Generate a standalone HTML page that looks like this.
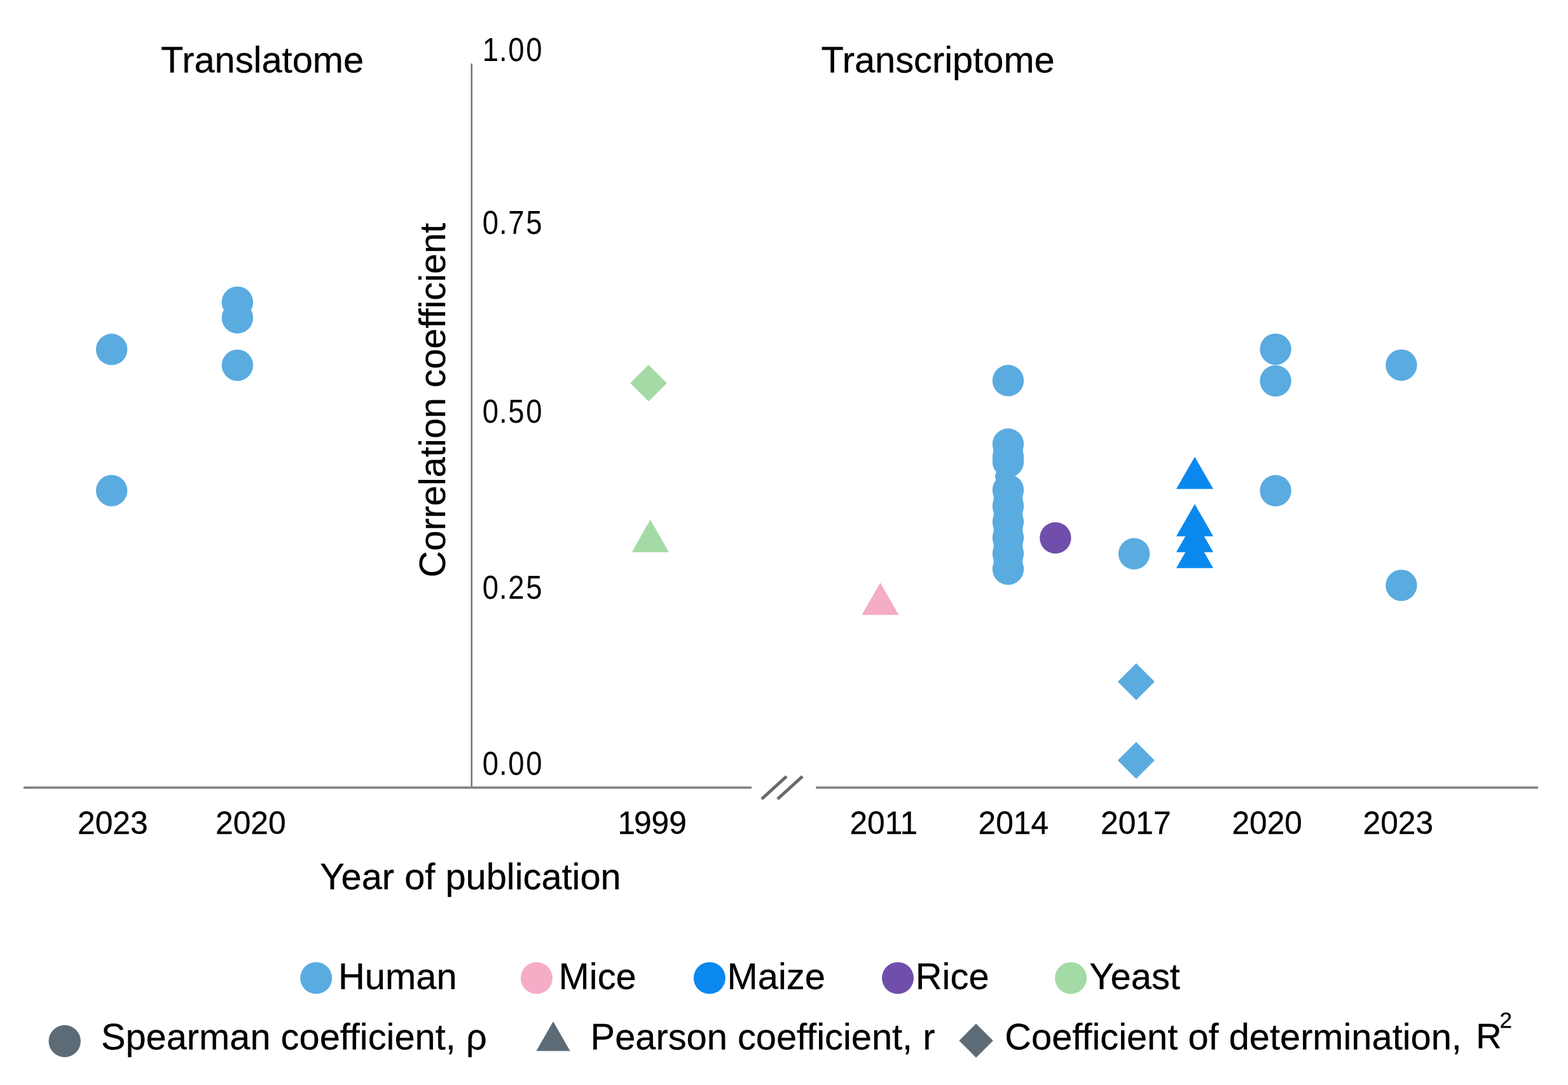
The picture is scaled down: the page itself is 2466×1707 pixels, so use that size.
<!DOCTYPE html>
<html lang="en">
<head>
<meta charset="utf-8">
<title>Correlation coefficient by year of publication</title>
<style>
html,body{margin:0;padding:0;background:#fff;}
body{width:2466px;height:1707px;}
svg{display:block;}
svg text{font-family:"Liberation Sans", Arial, Helvetica, sans-serif;}
</style>
</head>
<body>
<svg width="2466" height="1707" viewBox="0 0 2466 1707">
<rect width="2466" height="1707" fill="#fff"/>
<line x1="741.7" y1="100" x2="741.7" y2="1240.8" stroke="#787878" stroke-width="2.6"/>
<g stroke="#858585" stroke-width="3.6" fill="none">
<line x1="37" y1="1239.1" x2="1182" y2="1239.1"/>
<line x1="1283.3" y1="1239.1" x2="2419" y2="1239.1"/>
</g>
<g stroke="#686868" stroke-width="5" fill="none">
<line x1="1198" y1="1257" x2="1237" y2="1221.5"/>
<line x1="1223" y1="1257" x2="1262" y2="1221.5"/>
</g>
<g>
<circle cx="175.6" cy="549.7" r="24.7" fill="#5aabe0"/>
<circle cx="175.6" cy="771.9" r="24.7" fill="#5aabe0"/>
<circle cx="373.4" cy="475.4" r="24.7" fill="#5aabe0"/>
<circle cx="373.4" cy="500.0" r="24.7" fill="#5aabe0"/>
<circle cx="373.4" cy="574.6" r="24.7" fill="#5aabe0"/>
<polygon points="1020.0,574.0 1048.8,602.8 1020.0,631.6 991.2,602.8" fill="#a4daa5"/>
<polygon points="1022.8,817.4 1051.9,868.7 993.7,868.7" fill="#a4daa5"/>
<polygon points="1384.4,916.7 1413.5,967.4 1355.3,967.4" fill="#f4acc7"/>
<circle cx="1585.5" cy="598.8" r="24.7" fill="#5aabe0"/>
<circle cx="1585.5" cy="698.7" r="24.7" fill="#5aabe0"/>
<circle cx="1585.5" cy="719" r="24.7" fill="#5aabe0"/>
<circle cx="1585.5" cy="726.6" r="24.7" fill="#5aabe0"/>
<circle cx="1585.5" cy="770.8" r="24.7" fill="#5aabe0"/>
<circle cx="1585.5" cy="796" r="24.7" fill="#5aabe0"/>
<circle cx="1585.5" cy="821" r="24.7" fill="#5aabe0"/>
<circle cx="1585.5" cy="846" r="24.7" fill="#5aabe0"/>
<circle cx="1585.5" cy="871" r="24.7" fill="#5aabe0"/>
<circle cx="1585.5" cy="895.5" r="24.7" fill="#5aabe0"/>
<circle cx="1577.5" cy="749.5" r="12.5" fill="#5aabe0"/>
<rect x="1562.7" y="770.8" width="45.6" height="124.7" fill="#5aabe0"/>
<rect x="1562.2" y="698.7" width="46.6" height="27.9" fill="#5aabe0"/>
<circle cx="1659.9" cy="846.3" r="24.7" fill="#704eac"/>
<circle cx="1783.6" cy="871.2" r="24.7" fill="#5aabe0"/>
<polygon points="1879.0,718.8 1908.1,769.3 1849.9,769.3" fill="#0a88ee"/>
<polygon points="1879.0,793.0 1908.1,843.7 1849.9,843.7" fill="#0a88ee"/>
<polygon points="1879.0,818.0 1908.1,868.7 1849.9,868.7" fill="#0a88ee"/>
<polygon points="1879.0,843.0 1908.1,893.7 1849.9,893.7" fill="#0a88ee"/>
<circle cx="2006.1" cy="549.4" r="24.7" fill="#5aabe0"/>
<circle cx="2006.1" cy="599.2" r="24.7" fill="#5aabe0"/>
<circle cx="2006.1" cy="772.0" r="24.7" fill="#5aabe0"/>
<circle cx="2203.9" cy="574.4" r="24.7" fill="#5aabe0"/>
<circle cx="2203.9" cy="920.9" r="24.7" fill="#5aabe0"/>
<polygon points="1786.9,1043.5 1815.9,1072.5 1786.9,1101.5 1757.9,1072.5" fill="#5aabe0"/>
<polygon points="1786.9,1167.3 1815.9,1196.3 1786.9,1225.3 1757.9,1196.3" fill="#5aabe0"/>
</g>
<g fill="#000" stroke="#000" stroke-width="0.3">
<text x="253.0" y="114.3" font-size="57.8">Translatome</text>
<text x="1291.5" y="114.3" font-size="57.8">Transcriptome</text>
<text transform="translate(758.7,95.9) scale(0.885,1)" x="0 29.7 45.8 77.6" font-size="51.3" stroke="none">1.00</text>
<text transform="translate(758.7,368.2) scale(0.885,1)" x="0 29.7 45.8 77.6" font-size="51.3" stroke="none">0.75</text>
<text transform="translate(758.7,665.4) scale(0.885,1)" x="0 29.7 45.8 77.6" font-size="51.3" stroke="none">0.50</text>
<text transform="translate(758.7,942.1) scale(0.885,1)" x="0 29.7 45.8 77.6" font-size="51.3" stroke="none">0.25</text>
<text transform="translate(758.7,1218.9) scale(0.885,1)" x="0 29.7 45.8 77.6" font-size="51.3" stroke="none">0.00</text>
<text transform="translate(122.1,1312.3) scale(1,1.02)" font-size="49.7">2023</text>
<text transform="translate(339.1,1312.3) scale(1,1.02)" font-size="49.7">2020</text>
<text transform="translate(971.6,1312.3) scale(1,1.02)" dx="0 -2.3" font-size="49.7">1999</text>
<text transform="translate(1336.4,1312.3) scale(1,1.02)" font-size="49.7">2011</text>
<text transform="translate(1538.5,1312.3) scale(1,1.02)" font-size="49.7">2014</text>
<text transform="translate(1731.0,1312.3) scale(1,1.02)" font-size="49.7">2017</text>
<text transform="translate(1937.4,1312.3) scale(1,1.02)" font-size="49.7">2020</text>
<text transform="translate(2143.5,1312.3) scale(1,1.02)" font-size="49.7">2023</text>
<text x="503.3" y="1399.0" font-size="57.8">Year of publication</text>
<text transform="translate(700.0,908.5) rotate(-90)" font-size="57.8">Correlation coefficient</text>
</g>
<g>
<circle cx="497.2" cy="1538.7" r="25" fill="#5aabe0"/>
<circle cx="843.9" cy="1538.7" r="25" fill="#f4acc7"/>
<circle cx="1115.9" cy="1538.7" r="25" fill="#0a88ee"/>
<circle cx="1412" cy="1538.7" r="25" fill="#704eac"/>
<circle cx="1684.1" cy="1538.7" r="25" fill="#a4daa5"/>
<circle cx="101.7" cy="1638" r="25.2" fill="#5d6b77"/>
<polygon points="870.0,1606.9 896.6,1653.4 843.4,1653.4" fill="#5d6b77"/>
<polygon points="1535.1,1610.5 1561.8,1637.2 1535.1,1663.9 1508.4,1637.2" fill="#5d6b77"/>
</g>
<g fill="#000" stroke="#000" stroke-width="0.3">
<text x="532.0" y="1555.6" font-size="57.9">Human</text>
<text x="878.6" y="1555.6" font-size="57.9">Mice</text>
<text x="1143.6" y="1555.6" font-size="57.9">Maize</text>
<text x="1439.8" y="1555.6" font-size="57.9">Rice</text>
<text x="1713.2" y="1555.6" font-size="57.9">Yeast</text>
<text x="158.9" y="1651.3" font-size="57.8">Spearman coefficient, ρ</text>
<text x="928.6" y="1651.3" font-size="57.8">Pearson coefficient, r</text>
<text x="1580.3" y="1651.3" font-size="57.8">Coefficient of determination,</text>
<text x="2321.3" y="1648.8" font-size="56">R</text>
<text x="2358.5" y="1616.9" font-size="35">2</text>
</g>
</svg>
</body>
</html>
